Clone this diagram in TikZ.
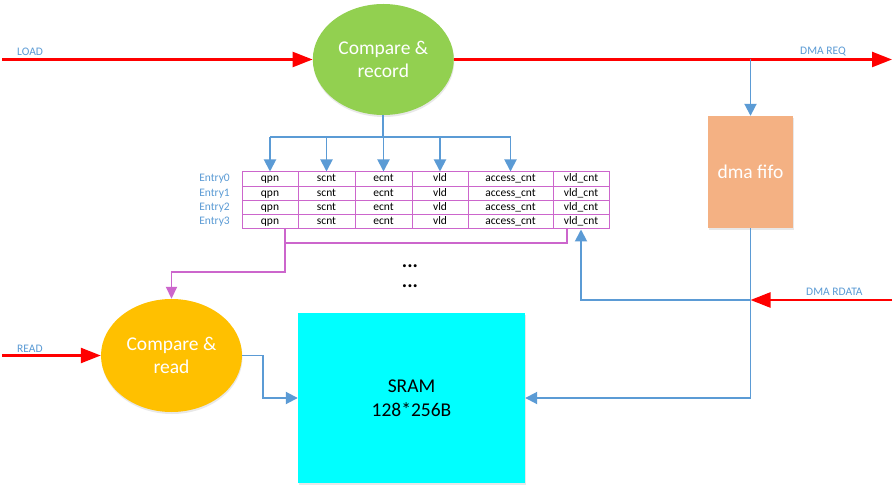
\documentclass[tikz,border=0pt]{standalone}
\usepackage{fontspec}
\setmainfont{Carlito}
\usetikzlibrary{arrows.meta,shapes.geometric,shadows}
\definecolor{lblue}{HTML}{5B9BD5}
\definecolor{mred}{HTML}{FF0000}
\definecolor{pinkc}{HTML}{CC66CC}
\definecolor{greenc}{HTML}{92D050}
\definecolor{orangec}{HTML}{FFC000}
\definecolor{salmonc}{HTML}{F4B183}
\definecolor{cyanc}{HTML}{00FFFF}
\begin{document}
\begin{tikzpicture}[x=1pt,y=-1pt,
  shd/.style={drop shadow={shadow xshift=0.5pt,shadow yshift=-2pt,opacity=0.15,fill=black!60}},
  proc/.style={ellipse,shd,draw=none,inner sep=0pt,text=white,align=center,
    font=\fontsize{19.5}{23}\selectfont},
  blk/.style={rectangle,shd,draw=none,inner sep=0pt,align=center,
    font=\fontsize{19.5}{24}\selectfont},
  cell/.style={rectangle,draw=pinkc,line width=1pt,fill=white,inner sep=0pt,
    text height=8pt,text depth=2.5pt,
    minimum height=14.25pt,font=\fontsize{11.5}{12}\selectfont},
  entry/.style={anchor=east,text=lblue,inner sep=0pt,text height=8pt,text depth=2.5pt,
    font=\fontsize{11.5}{12}\selectfont},
  sig/.style={anchor=base west,text=lblue,inner sep=0pt,font=\fontsize{11.5}{12}\selectfont},
  rarrow/.style={draw=mred,line width=2.4pt,-{Triangle[length=20pt,width=15pt]}},
  bline/.style={draw=lblue,line width=1.9pt},
  barrow/.style={bline,-{Triangle[length=12pt,width=12pt]}},
  parrow/.style={draw=pinkc,line width=1.8pt,-{Triangle[length=12pt,width=11pt]}},
  pline/.style={draw=pinkc,line width=1.8pt}
]
\useasboundingbox (0,0) rectangle (894,494);
\fill[white] (0,0) rectangle (894,494);

% main blocks
\node[proc,fill=greenc,minimum width=141pt,minimum height=111pt] (cr) at (383.3,59.5) {Compare \&\\record};
\node[blk,fill=salmonc,text=white,minimum width=85pt,minimum height=112pt] (fifo) at (750.5,172) {dma fifo};
\node[blk,fill=cyanc,text=black,minimum width=227pt,minimum height=170pt] (sram) at (411.5,398) {SRAM\\128*256B};
\node[proc,fill=orangec,minimum width=141pt,minimum height=113pt] (rd) at (171.5,355.5) {Compare \&\\read};

% table
\foreach \r in {0,...,3}{
  \foreach \xa/\xb/\t [count=\i] in {242/298/qpn,298/355/scnt,355/412/ecnt,412/468/vld,468/553/access\_cnt,553/609/vld\_cnt}{
    \node[cell,minimum width={(\xb-\xa)*1pt}] (t-\r-\i) at ({(\xa+\xb)/2},{179.125+14.25*\r}) {\t};
  }
  \node[entry] (en\r) at (230,{179.125+14.25*\r}) {Entry\r};
}

% dots
\node[font=\fontsize{20}{20}\selectfont\bfseries,inner sep=0pt] (d1) at (410,266) {...};
\node[font=\fontsize{20}{20}\selectfont\bfseries,inner sep=0pt] (d2) at (410,286) {...};

% coordinates
\coordinate (loadin) at (2,59.5);
\coordinate (reqout) at (892,59.5);
\coordinate (reqbr) at (750.5,59.5);
\coordinate (split) at (383.3,136.7);
\coordinate (readin) at (2,355.5);
\coordinate (rdatain) at (892,300);
\coordinate (rdj) at (750.5,300);
\coordinate (pk1) at (285,243);
\coordinate (pkr) at (566.7,243);
\coordinate (pk2) at (285,271.7);
\coordinate (bk1) at (263.3,355.5);

% signals
\draw[rarrow] (loadin) -- (cr.west);
\draw[rarrow] (cr.east) -- (reqout);
\draw[rarrow] (rdatain) -- (rdj);
\draw[rarrow] (readin) -- (rd.west);
\node[sig] (lload) at (17,56) {LOAD};
\node[sig] (lreq) at (800,55) {DMA REQ};
\node[sig] (lrdata) at (806,296) {DMA RDATA};
\node[sig] (lread) at (17,352.5) {READ};

% compare&record to table
\draw[bline] (cr.south) -- (split);
\draw[bline] (t-0-1.north |- split) -- (t-0-5.north |- split);
\foreach \i in {1,...,5}{
  \draw[barrow] (t-0-\i.north |- split) -- (t-0-\i.north);
}

% DMA req to fifo
\draw[barrow] (reqbr) -- (fifo.north);

% fifo to sram
\draw[barrow] (fifo.south) -- (fifo.south |- sram.east) -- (sram.east);

% rdata to vld_cnt
\draw[barrow] (rdj) -- (t-3-6.south |- rdj) -- (t-3-6.south);

% pink feedback to compare & read
\draw[pline] (t-3-1.south -| pk1) -- (pk1) -- (pkr) -- (t-3-6.south -| pkr);
\draw[parrow] (pk1) -- (pk2) -- (pk2 -| rd.north) -- (rd.north);

% compare&read to sram
\draw[barrow] (rd.east) -- (bk1) -- (bk1 |- sram.west) -- (sram.west);
\end{tikzpicture}
\end{document}
